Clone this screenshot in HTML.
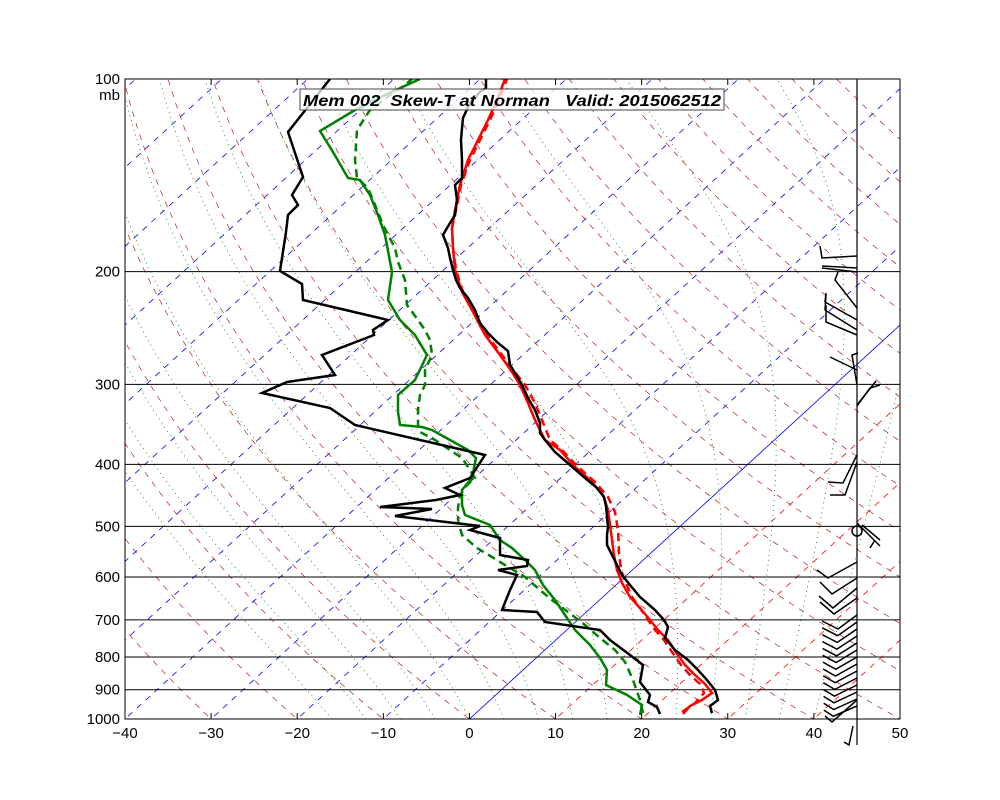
<!DOCTYPE html><html><head><style>body{margin:0;background:#fff}svg{display:block}text{font-family:"Liberation Sans",sans-serif;font-size:15px}</style></head><body>
<svg id="s" width="1000" height="800" xmlns="http://www.w3.org/2000/svg">
<defs><clipPath id="c"><rect x="125" y="79" width="775" height="640"/></clipPath></defs>
<g id="bg" clip-path="url(#c)"></g>
<g id="fg"></g>
</svg>
<script>
const NS="http://www.w3.org/2000/svg";
const bg=document.getElementById('bg'),fg=document.getElementById('fg');
function el(p,t,a){const e=document.createElementNS(NS,t);for(const k in a)e.setAttribute(k,a[k]);p.appendChild(e);return e;}
const Y=p=>79+640*Math.log10(p/100);
const X=(T,p)=>125+(T+40)*8.611+(719-Y(p))*1.093;
function line(g,pts,st){el(g,'polyline',Object.assign({points:pts.map(a=>a.join(',')).join(' '),fill:'none'},st));}
for(let T=-160;T<=60;T+=10){const pts=[[X(T,1050),Y(1050)],[X(T,90),Y(90)]];
 if(T==0)line(bg,pts,{stroke:'#0000ff','stroke-width':0.8});
 else line(bg,pts,{stroke:T<0?'#0000ff':'#ff0000','stroke-width':0.8,'stroke-dasharray':'6,6'});}
for(let th=-30;th<=180;th+=10){const pts=[];for(let p=1050;p>=90;p-=10){const T=(th+273.15)*Math.pow(p/1000,0.286)-273.15;pts.push([X(T,p),Y(p)]);}
 line(bg,pts,{stroke:'#b22222','stroke-width':0.7,'stroke-dasharray':'6,6'});}
function es(T){return 6.112*Math.exp(17.67*T/(T+243.5));}
for(let tw=-16;tw<=40;tw+=4){let T=tw+273.15,pts=[[X(tw,1000),Y(1000)]];
 for(let p=1000;p>100;p-=5){const t=T-273.15,rs=0.622*es(t)/(p-es(t));const Lv=2.5e6,Rd=287,cp=1005;
  const d=(Rd*T+Lv*rs)/(p*(cp+Lv*Lv*rs*0.622/(Rd*T*T)));T-=d*5;pts.push([X(T-273.15,p-5),Y(p-5)]);}
 line(bg,pts,{stroke:'#008000','stroke-width':0.8,'stroke-dasharray':'1,4'});}
[200,300,400,500,600,700,800,900].forEach(p=>{line(fg,[[125,Y(p)],[900,Y(p)]],{stroke:'#000','stroke-width':1});});
const blk=[[712,713],[710,706],[718,700],[715,690],[707,680],[698,670],[688,660],[675,650],[665,638],[668,627],[664,620],[655,610],[640,597],[630,585],[622,575],[617,565],[612,555],[607,545],[607,535],[608,527],[606,506],[604,497],[596,487],[585,478],[570,465],[555,452],[545,440],[540,433],[540,423],[535,410],[528,398],[522,385],[515,373],[510,365],[508,351],[498,343],[488,333],[480,323],[475,310],[468,298],[460,288],[456,280],[453,270],[450,258],[448,248],[445,240],[443,235],[447,228],[455,215],[457,200],[455,185],[462,178],[462,160],[461,140],[462,128],[463,118],[470,103],[480,92],[486,88],[486,79]];
const dew=[[660,714],[657,707],[648,702],[650,695],[640,682],[643,665],[630,655],[610,640],[600,630],[545,622],[537,612],[502,610],[510,590],[517,575],[498,570],[527,566],[528,560],[500,555],[500,538],[470,530],[480,526],[395,516],[432,509],[380,507],[436,500],[460,495],[445,488],[470,478],[485,455],[355,425],[330,408],[262,393],[287,382],[335,375],[322,355],[374,335],[373,330],[388,320],[303,300],[302,284],[280,271],[286,232],[288,215],[298,205],[292,195],[303,177],[288,132],[330,79]];
const gs=[[640,715],[642,705],[627,695],[606,685],[607,670],[600,658],[590,645],[575,630],[565,615],[555,600],[543,585],[535,570],[525,560],[512,548],[500,540],[490,525],[465,515],[462,505],[462,490],[472,478],[474,468],[476,458],[468,450],[450,440],[432,430],[422,427],[400,425],[398,412],[398,395],[415,380],[427,355],[415,335],[400,320],[388,300],[392,272],[385,235],[378,215],[370,195],[360,180],[348,178],[333,152],[320,131],[355,110],[385,95],[420,79]];
const gd=[[643,713],[640,700],[633,680],[625,662],[615,650],[600,638],[585,625],[572,615],[552,600],[540,590],[525,577],[505,565],[492,557],[477,548],[462,535],[458,520],[458,508],[460,495],[467,485],[475,478],[470,470],[462,458],[450,450],[435,440],[420,432],[418,425],[418,410],[420,395],[425,385],[425,370],[432,355],[430,340],[425,330],[418,320],[407,305],[405,280],[398,262],[395,248],[383,225],[375,205],[368,188],[357,178],[355,160],[357,130],[370,110],[390,95],[405,85],[412,79]];
const rs=[[683,714],[690,706],[702,700],[712,693],[705,684],[695,675],[685,665],[678,655],[668,640],[658,630],[650,620],[640,608],[630,597],[622,583],[617,570],[614,555],[612,540],[610,525],[608,510],[603,495],[590,480],[575,467],[560,450],[545,440],[535,420],[528,403],[520,385],[512,372],[500,355],[485,335],[472,310],[462,292],[455,270],[453,248],[452,228],[455,210],[460,185],[468,160],[478,140],[488,120],[497,100],[505,79]];
const rd=[[682,712],[695,703],[704,693],[700,684],[690,675],[681,665],[674,655],[664,640],[655,630],[648,620],[640,608],[632,597],[626,583],[621,570],[619,553],[618,530],[615,512],[608,497],[595,482],[578,467],[562,450],[550,440],[542,420],[535,403],[525,385],[515,372],[502,355],[487,335],[473,310],[463,292],[456,270],[453,248],[452,228],[456,210],[461,185],[470,160],[480,140],[490,120],[499,100],[507,79]];
const cg=document.getElementById('s');const dg=el(cg,'g',{'clip-path':'url(#c)'});
line(dg,gd,{stroke:'#008000','stroke-width':2.5,'stroke-dasharray':'8,5'});
line(dg,gs,{stroke:'#008000','stroke-width':2.5});
line(dg,rd,{stroke:'#ff0000','stroke-width':2.5,'stroke-dasharray':'8,5'});
line(dg,rs,{stroke:'#ff0000','stroke-width':2.5});
line(dg,blk,{stroke:'#000','stroke-width':2.5});
line(dg,dew,{stroke:'#000','stroke-width':2.5});
const tg=el(cg,'g',{});
el(tg,'rect',{x:125,y:79,width:775,height:640,fill:'none',stroke:'#000','stroke-width':1});
el(tg,'line',{x1:857,y1:79,x2:857,y2:745,stroke:'#000','stroke-width':1.2});
for(let T=-40;T<=50;T+=10){const x=125+(T+40)*8.611;el(tg,'line',{x1:x,y1:719,x2:x,y2:713,stroke:'#000'});el(tg,'line',{x1:x,y1:79,x2:x,y2:85,stroke:'#000'});
 const t=el(tg,'text',{x:x,y:738,'text-anchor':'middle'});t.textContent=(T<0?'\u2212':'')+Math.abs(T);}
[100,200,300,400,500,600,700,800,900,1000].forEach(p=>{const t=el(tg,'text',{x:120,y:Y(p)+5,'text-anchor':'end'});t.textContent=p;});
{const t=el(tg,'text',{x:120,y:100,'text-anchor':'end'});t.textContent='mb';}
el(tg,'rect',{x:300,y:89,width:424,height:21,fill:'#fff','fill-opacity':0.75,stroke:'#444'});
{const t=el(tg,'text',{x:303,y:106,'font-weight':'bold','font-style':'italic',textLength:418,lengthAdjust:'spacingAndGlyphs'});t.setAttribute('style','white-space:pre;font-size:16px');t.textContent='Mem 002  Skew-T at Norman   Valid: 2015062512';}
const bst={stroke:'#000','stroke-width':1.5,fill:'none'};
function barb(pts){line(tg,pts,bst);}
barb([[857,256],[822,258],[820,246]]);barb([[857,268],[822,266]]);barb([[857,272],[822,268]]);
barb([[857,308],[835,280],[838,272]]);barb([[857,320],[825,302],[826,293]]);barb([[857,330],[825,310],[826,295]]);barb([[857,335],[826,322],[826,305]]);
barb([[857,370],[830,357]]);barb([[857,385],[852,355],[858,353]]);barb([[857,405],[876,381]]);barb([[857,406],[870,388],[880,385]]);
barb([[857,455],[843,483],[828,482]]);barb([[857,462],[845,495],[830,495]]);
el(tg,'circle',{cx:857,cy:531,r:5,fill:'none',stroke:'#000','stroke-width':1.5});
barb([[857,523],[880,546]]);barb([[862,525],[880,540]]);barb([[875,540],[870,548]]);
barb([[857,562],[828,578],[817,570]]);
barb([[857,578],[832,594],[820,582]]);barb([[857,588],[833,608],[819,596]]);barb([[857,598],[834,614],[820,602]]);
for(let y=615;y<=712;y+=7){const k=(y-615)/97;barb([[857,y],[838-5*k,y+14-4*k],[822+2*k,y+6-2*k]]);}
barb([[857,700],[832,722],[825,716]]);barb([[853,726],[849,745],[844,742]]);
</script>
</body></html>
